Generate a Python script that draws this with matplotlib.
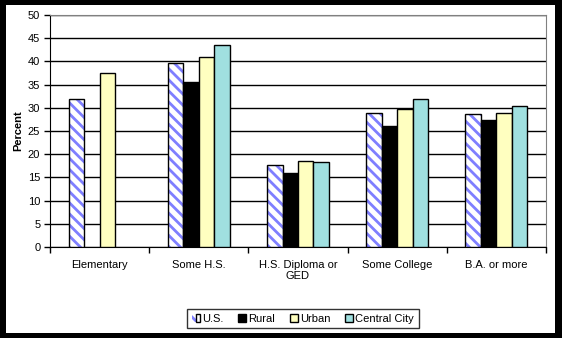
import matplotlib.pyplot as plt
import numpy as np
from matplotlib.patches import Rectangle
from matplotlib.legend_handler import HandlerTuple

plt.rcParams['font.family'] = ['Liberation Sans', 'DejaVu Sans']
plt.rcParams['hatch.linewidth'] = 2.0

categories = ['Elementary', 'Some H.S.', 'H.S. Diploma or\nGED', 'Some College', 'B.A. or more']
series = ['U.S.', 'Rural', 'Urban', 'Central City']
us = [32.0, 39.7, 17.7, 28.8, 28.6]
rural = [np.nan, 35.6, 16.0, 26.1, 27.4]
urban = [37.5, 40.9, 18.5, 29.7, 28.8]
central = [np.nan, 43.5, 18.3, 31.9, 30.3]

W, H = 562, 338
fig = plt.figure(figsize=(W / 100, H / 100), dpi=100, facecolor='black')
# white panel with black border / shadow
panel = Rectangle((6 / W, 5 / H), (555 - 6) / W, (333 - 5) / H,
                  transform=fig.transFigure, facecolor='white',
                  edgecolor='none', zorder=-10)
fig.add_artist(panel)

ax = fig.add_axes([50 / W, (H - 247) / H, (546 - 50) / W, (247 - 15) / H])
ax.set_facecolor('white')

x = np.arange(len(categories)) + 0.5
bw = 0.156
offsets = (np.arange(4) - 1.5) * bw

# U.S. hatched bars
ax.bar(x + offsets[0], us, bw, color='white', edgecolor='#7f7fff', hatch='\\\\\\',
       linewidth=0, zorder=3)
ax.bar(x + offsets[0], us, bw, fill=False, edgecolor='black', linewidth=1, zorder=4)
ax.bar(x + offsets[1], rural, bw, color='black', edgecolor='black', linewidth=1, zorder=3)
ax.bar(x + offsets[2], urban, bw, color='#ffffc0', edgecolor='black', linewidth=1, zorder=3)
ax.bar(x + offsets[3], central, bw, color='#a0e0e0', edgecolor='black', linewidth=1, zorder=3)

ax.set_xlim(0, 5)
ax.set_ylim(0, 50)
ax.set_yticks(np.arange(0, 51, 5))
ax.yaxis.grid(True, color='black', linewidth=1)
ax.set_axisbelow(True)

ax.set_xticks(np.arange(0, 6))
ax.set_xticklabels([])
ax.set_xticks(x, minor=True)
ax.set_xticklabels(categories, minor=True, fontsize=8)
ax.tick_params(axis='x', which='minor', length=0, pad=9)
ax.tick_params(axis='x', which='major', length=4, width=1, direction='out')
ax.tick_params(axis='y', length=4, width=1, labelsize=8, pad=3)

for s in ['top', 'right']:
    ax.spines[s].set_color('#808080')
for s in ['left', 'bottom']:
    ax.spines[s].set_color('black')

ax.set_ylabel('Percent', fontsize=8, fontweight='bold', labelpad=3)

us_handle = (Rectangle((0, 0), 1, 1, facecolor='white', edgecolor='#7f7fff',
                       hatch='\\\\\\\\', linewidth=0),
             Rectangle((0, 0), 1, 1, fill=False, edgecolor='black', linewidth=1))
handles = [
    us_handle,
    Rectangle((0, 0), 1, 1, facecolor='black', edgecolor='black'),
    Rectangle((0, 0), 1, 1, facecolor='#ffffc0', edgecolor='black'),
    Rectangle((0, 0), 1, 1, facecolor='#a0e0e0', edgecolor='black'),
]
leg = fig.legend(handles, series, loc='center', bbox_to_anchor=(303 / W, 1 - 318.5 / H),
                 ncol=4, fontsize=8, frameon=True, fancybox=False, edgecolor='black',
                 handlelength=0.7, handleheight=0.7, handletextpad=0.2,
                 columnspacing=1.35, borderpad=0.4,
                 handler_map={tuple: HandlerTuple(ndivide=None, pad=0)})
leg.get_frame().set_linewidth(1)

fig.savefig('out.png', dpi=100, facecolor='black')
